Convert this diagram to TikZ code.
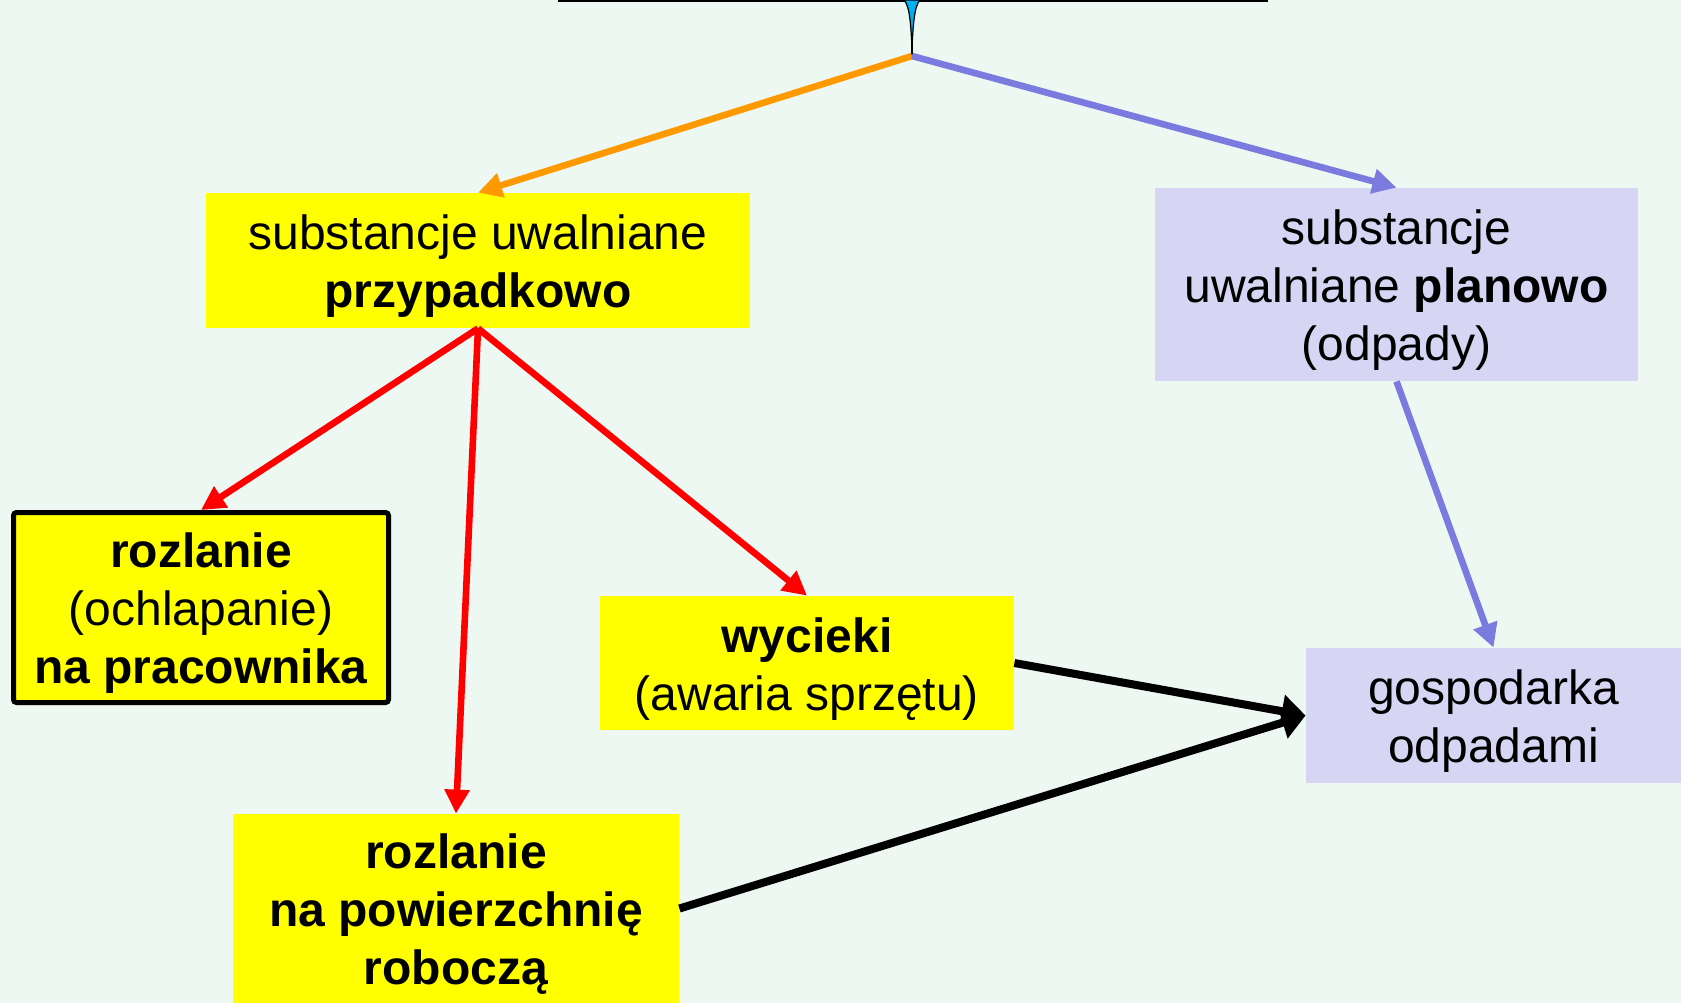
\documentclass[tikz,border=0pt]{standalone}
\usepackage{fontspec}
\setmainfont{Liberation Sans}
\usetikzlibrary{arrows.meta}
\definecolor{bgc}{RGB}{237,248,242}
\definecolor{ylw}{RGB}{255,255,0}
\definecolor{lav}{RGB}{214,214,244}
\definecolor{purp}{RGB}{123,123,223}
\definecolor{orng}{RGB}{255,153,0}
\definecolor{drop}{RGB}{0,176,240}
\tikzset{
  txtstyle/.style={inner sep=0pt, align=center, font=\fontsize{24}{29}\selectfont},
  box/.style={inner sep=0pt, label={[txtstyle, yshift=-3pt]center:{#1}}},
  ybox/.style={box={#1}, fill=ylw},
  pbox/.style={box={#1}, fill=lav},
  conn/.style={line width=3.3pt, -{Triangle[length=12pt,width=12pt]}},
  bconn/.style={line width=4pt, -{Triangle[length=12pt,width=16pt]}},
}
\begin{document}
\begin{tikzpicture}[x=0.5pt,y=-0.5pt]
\useasboundingbox (0,0) rectangle (1681,1003);
\fill[bgc] (0,0) rectangle (1681,1003);
% top bracket
\draw[line width=1pt] (558,1) -- (1268,1);
\filldraw[fill=drop, draw=black, line width=0.6pt] (904,0) .. controls (910,6) and (911,28) .. (912,48) .. controls (913,28) and (914,6) .. (920,0) -- cycle;
\draw[line width=1pt] (912,36) -- (912,56);
\coordinate (top) at (912,56);
% nodes
\node[ybox={substancje uwalniane\\\textbf{przypadkowo}}, minimum width=272pt, minimum height=67.5pt] (b1) at (478,260.5) {};
\node[pbox={substancje\\uwalniane \textbf{planowo}\\(odpady)}, minimum width=241.5pt, minimum height=96.5pt] (b2) at (1396.5,284.5) {};
\node[ybox={\textbf{rozlanie}\\(ochlapanie)\\\textbf{na pracownika}}, draw=black, line width=2.5pt, rounded corners=1.5pt, minimum width=187.5pt, minimum height=95pt] (r1) at (201,607.5) {};
\node[ybox={\textbf{wycieki}\\(awaria sprzętu)}, minimum width=207pt, minimum height=67pt] (wy) at (807,663) {};
\node[ybox={\textbf{rozlanie}\\\textbf{na powierzchnię}\\\textbf{roboczą}}, minimum width=223pt, minimum height=94.5pt] (r2) at (456,908.5) {};
\node[pbox={gospodarka\\odpadami}, minimum width=187.5pt, minimum height=67.5pt] (go) at (1493.5,715.5) {};
% connectors
\draw[conn, orng] (top) -- (b1.north);
\draw[conn, purp] (top) -- (b2.north);
\draw[conn, red] (b1.south) -- (r1.north);
\draw[conn, red] (b1.south) -- (r2.north);
\draw[conn, red] (b1.south) -- (wy.north);
\draw[conn, purp] (b2.south) -- (go.north);
\draw[bconn, black] (wy.east) -- (go.west);
\draw[bconn, black] (r2.east) -- (go.west);
\end{tikzpicture}
\end{document}
